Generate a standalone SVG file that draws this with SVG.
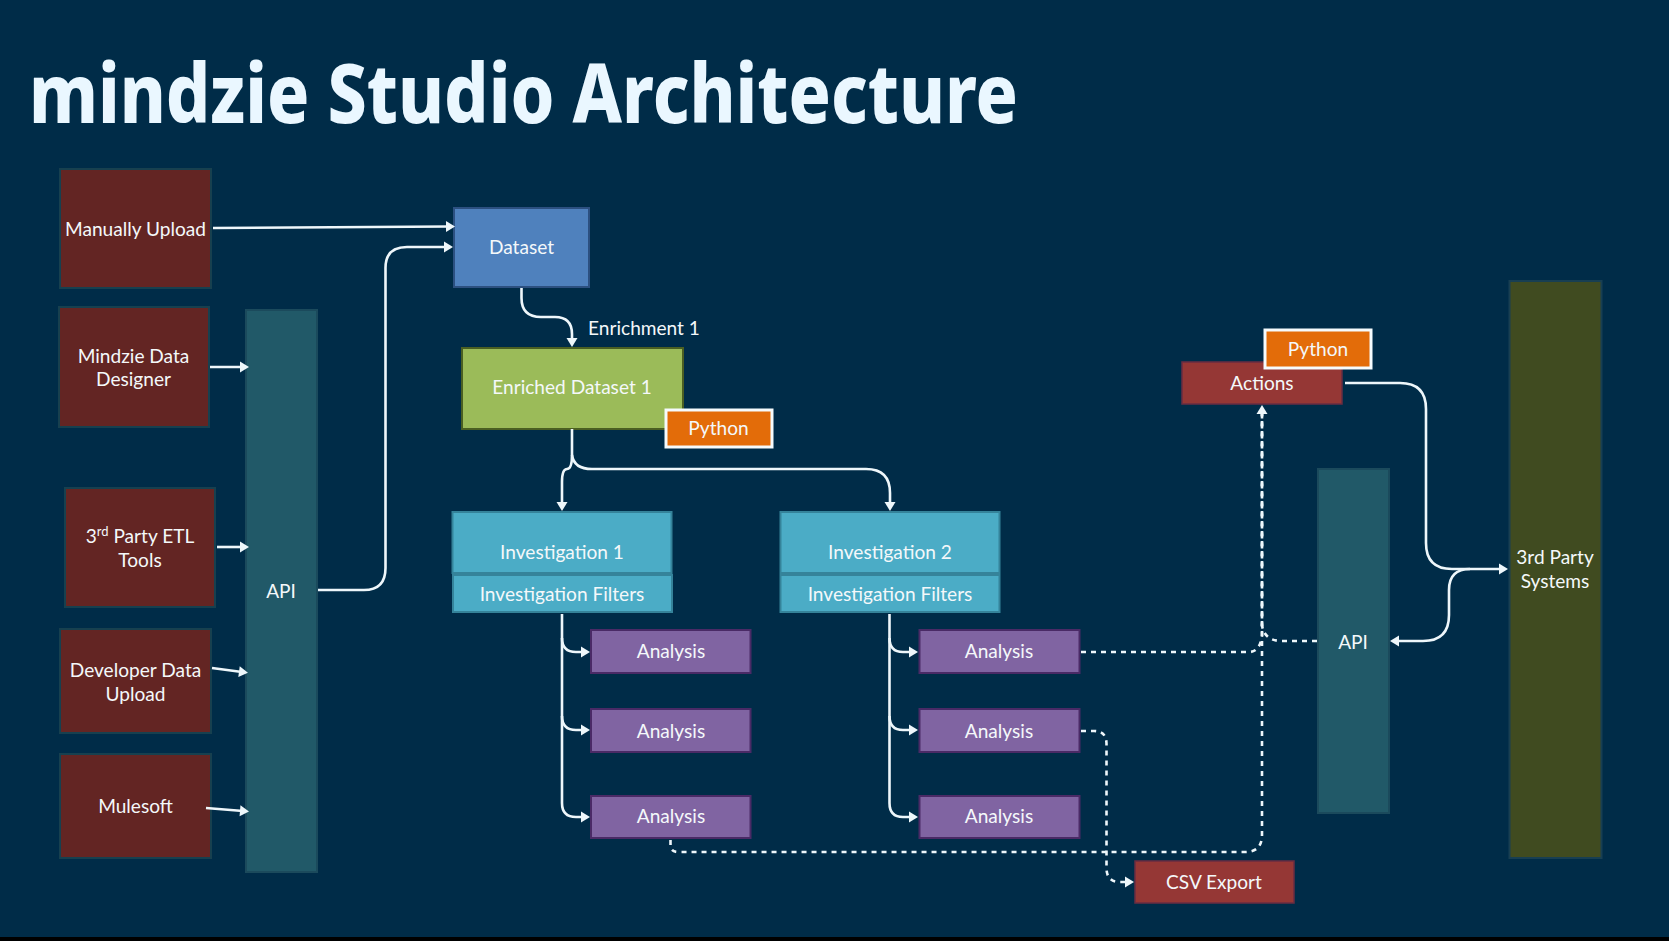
<svg xmlns="http://www.w3.org/2000/svg" width="1669" height="941" viewBox="0 0 1669 941">
<style>
text{font-family:Lato,"Noto Sans",sans-serif;font-size:19.1px;fill:#f4f8fa;text-anchor:middle}
.title{font-family:"Noto Sans",sans-serif;font-size:82px;font-weight:800;fill:#eaf7ff;text-anchor:start}
.src{fill:#632523;stroke:#17404f;stroke-width:2}
.api{fill:#215968;stroke:#1b4a5c;stroke-width:2}
.ext{fill:#404b20;stroke:#183f52;stroke-width:2}
.ds{fill:#4f81bd;stroke:#2c5080;stroke-width:2}
.en{fill:#9bbb59;stroke:#4a5f22;stroke-width:2}
.inv{fill:#4bacc6;stroke:#35839a;stroke-width:2}
.an{fill:#8064a2;stroke:#4a2a66;stroke-width:2}
.py{fill:#e36c09;stroke:#f6fbfd;stroke-width:3}
.act{fill:#953735;stroke:#6a2d42;stroke-width:1.5}
.c{fill:none;stroke:#eef7fb;stroke-width:2.6}
.d{stroke-dasharray:5 5}
</style>
<defs>
<marker id="a" markerUnits="userSpaceOnUse" markerWidth="10" markerHeight="12" viewBox="0 0 9 12" refX="3" refY="6" orient="auto"><path d="M0 .5L9 6L0 11.5z" fill="#eef7fb"/></marker>
</defs>
<rect width="1669" height="941" fill="#002c48"/>
<rect y="937" width="1669" height="4" fill="#000"/>
<text class="title" x="29" y="123" textLength="989" lengthAdjust="spacingAndGlyphs">mindzie Studio Architecture</text>

<g id="manual"><rect class="src" x="60" y="169" width="151" height="119"/><text x="135.500" y="235.500">Manually Upload</text></g>
<g id="designer"><rect class="src" x="59" y="307" width="150" height="120"/><text x="133.500" y="362.500">Mindzie Data</text><text x="133.500" y="386">Designer</text></g>
<g id="etl"><rect class="src" x="65" y="488" width="150" height="119"/><text x="140" y="542.500">3<tspan font-size="13" dy="-7">rd</tspan><tspan dy="7"> Party ETL</tspan></text><text x="140" y="567">Tools</text></g>
<g id="developer"><rect class="src" x="60" y="629" width="151" height="104"/><text x="135.500" y="676.500">Developer Data</text><text x="135.500" y="701">Upload</text></g>
<g id="mulesoft"><rect class="src" x="60" y="754" width="151" height="104"/><text x="135.500" y="812.500">Mulesoft</text></g>
<g id="api-left"><rect class="api" x="246" y="310" width="71" height="562"/><text x="281" y="597.500">API</text></g>
<g id="dataset"><rect class="ds" x="454" y="208" width="135" height="79"/><text x="521.500" y="253.500">Dataset</text></g>
<g id="enrichment-label"><text x="644" y="334.500">Enrichment 1</text></g>
<g id="enriched"><rect class="en" x="462" y="348" width="221" height="81"/><text x="572" y="393.500">Enriched Dataset 1</text></g>
<g id="python-1"><rect class="py" x="666" y="410" width="106" height="37"/><text x="718.500" y="435">Python</text></g>
<g id="investigation-1"><rect class="inv" x="452.500" y="512" width="219" height="61"/><text x="562" y="558.500">Investigation 1</text><rect class="inv" x="453" y="575" width="219" height="37"/><text x="562" y="600.500">Investigation Filters</text></g>
<g id="investigation-2"><rect class="inv" x="780.500" y="512" width="219" height="61"/><text x="890" y="558.500">Investigation 2</text><rect class="inv" x="780.500" y="575" width="219" height="37"/><text x="890" y="600.500">Investigation Filters</text></g>
<g id="analysis-1-1"><rect class="an" x="591" y="630" width="159.500" height="43"/><text x="671" y="658">Analysis</text></g>
<g id="analysis-1-2"><rect class="an" x="591" y="709" width="159.500" height="43"/><text x="671" y="738">Analysis</text></g>
<g id="analysis-1-3"><rect class="an" x="591" y="796" width="159.500" height="42"/><text x="671" y="823">Analysis</text></g>
<g id="analysis-2-1"><rect class="an" x="919.500" y="630" width="160" height="43"/><text x="999" y="658">Analysis</text></g>
<g id="analysis-2-2"><rect class="an" x="919.500" y="709" width="160" height="43"/><text x="999" y="738">Analysis</text></g>
<g id="analysis-2-3"><rect class="an" x="919.500" y="796" width="160" height="42"/><text x="999" y="823">Analysis</text></g>
<g id="csv"><rect class="act" x="1135" y="861" width="159" height="42"/><text x="1214" y="889">CSV Export</text></g>
<g id="actions"><rect class="act" x="1182" y="362" width="160" height="42"/><text x="1262" y="389.500">Actions</text></g>
<g id="python-2"><rect class="py" x="1265" y="330" width="106" height="38"/><text x="1318" y="356">Python</text></g>
<g id="api-right"><rect class="api" x="1318" y="469" width="71" height="344"/><text x="1353" y="648.500">API</text></g>
<g id="third-party"><rect class="ext" x="1509.500" y="281" width="92" height="577"/><text x="1555" y="563.500">3rd Party</text><text x="1555" y="588">Systems</text></g>

<g id="connectors">
<path class="c" marker-end="url(#a)" d="M213 228L449 226.500"/>
<path class="c" marker-end="url(#a)" d="M318 590H364Q385.500 590 385.500 568V268Q385.500 247 407 247H447"/>
<path class="c" marker-end="url(#a)" d="M210 367H243"/>
<path class="c" marker-end="url(#a)" d="M217 547H243"/>
<path class="c" marker-end="url(#a)" d="M212 668L242 672"/>
<path class="c" marker-end="url(#a)" d="M206 808L243 811"/>
<path class="c" marker-end="url(#a)" d="M521.500 288V298Q521.500 317 541 317H555Q572 317 572 334V341"/>
<path class="c" marker-end="url(#a)" d="M572 429V455Q572 469 567 469Q562 469 562 482V505"/>
<path class="c" marker-end="url(#a)" d="M572 455Q574 469 592 469H866Q890 469 890 493V505"/>
<path class="c" marker-end="url(#a)" d="M562 614V638Q562 652 576 652H584"/>
<path class="c" marker-end="url(#a)" d="M562 638V716Q562 730 576 730H584"/>
<path class="c" marker-end="url(#a)" d="M562 716V803Q562 817 576 817H584"/>
<path class="c" marker-end="url(#a)" d="M889.500 614V638Q889.500 652 903 652H912"/>
<path class="c" marker-end="url(#a)" d="M889.500 638V716Q889.500 730 903 730H912"/>
<path class="c" marker-end="url(#a)" d="M889.500 716V803Q889.500 817 903 817H912"/>
<path class="c d" d="M670.500 840V845Q670.500 852 678 852H1245Q1262 852 1262 835V411"/>
<path class="c d" marker-end="url(#a)" d="M1081 652H1250Q1260 651 1262 636V411"/>
<path class="c d" d="M1317 641H1280Q1264 640 1262 625V411"/>
<path class="c d" marker-end="url(#a)" d="M1081 731H1094Q1106.500 731 1106.500 744V868Q1106.500 882 1120 882H1128"/>
<path class="c" marker-end="url(#a)" d="M1345 383H1400Q1426 383 1426 409V543Q1426 569 1452 569H1502"/>
<path class="c" marker-end="url(#a)" d="M1470 569Q1449 569 1449 590V615Q1449 641 1423 641H1396"/>
</g>
</svg>
